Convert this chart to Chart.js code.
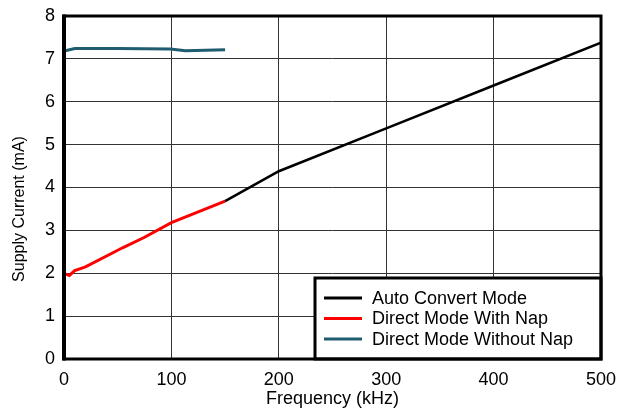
<!DOCTYPE html>
<html><head><meta charset="utf-8">
<script src="https://cdn.jsdelivr.net/npm/chart.js@4.4.0/dist/chart.umd.min.js"></script>
<style>html,body{margin:0;padding:0;background:#fff}#wrap{width:619px;height:411px}</style>
</head><body><div id="wrap"><canvas id="c" width="619" height="411"></canvas></div>
<script>
const xTitle = "Frequency (kHz)";
const yTitle = "Supply Current (mA)";
const seriesNames = ["Auto Convert Mode", "Direct Mode With Nap", "Direct Mode Without Nap"];
const seriesColors = ["#000000", "#ff0000", "#1f5c70"];
const autoFreq = [150, 200, 300, 400, 500];
const autoCurrent = [3.68, 4.38, 5.38, 6.38, 7.38];
const napFreq = [0, 3, 5, 10, 20, 55, 75, 100, 150];
const napCurrent = [1.98, 1.97, 1.95, 2.06, 2.15, 2.6, 2.84, 3.18, 3.68];
const noNapFreq = [0, 10, 50, 99, 113, 150];
const noNapCurrent = [7.18, 7.24, 7.24, 7.23, 7.19, 7.21];

const FONT = "'Liberation Sans', Arial, sans-serif";
const pts = (xs, ys) => xs.map((x, i) => ({x, y: ys[i]}));

const framePlugin = {
  id: 'frame',
  afterDatasetsDraw(chart) {
    const {ctx, chartArea: a} = chart;
    ctx.save();
    // legend box
    const lx = 315, ly = 278, lr = a.right, lb = a.bottom;
    ctx.fillStyle = '#fff';
    ctx.fillRect(lx, ly, lr - lx, lb - ly);
    ctx.lineWidth = 3;
    ctx.strokeStyle = '#000';
    ctx.strokeRect(lx, ly, lr - lx, lb - ly);
    const rows = [298, 318.5, 339];
    ctx.font = "18px " + FONT;
    ctx.textBaseline = 'middle';
    ctx.textAlign = 'left';
    seriesNames.forEach((n, i) => {
      ctx.strokeStyle = seriesColors[i];
      ctx.lineWidth = 3;
      ctx.beginPath();
      ctx.moveTo(324, rows[i]);
      ctx.lineTo(362, rows[i]);
      ctx.stroke();
      ctx.fillStyle = '#000';
      ctx.fillText(n, 372, rows[i] + 1);
    });
    // plot frame
    ctx.strokeStyle = '#000';
    ctx.lineWidth = 3;
    ctx.strokeRect(a.left, a.top, a.right - a.left, a.bottom - a.top);
    ctx.lineWidth = 4;
    ctx.beginPath();
    ctx.moveTo(a.left, a.top - 1.5);
    ctx.lineTo(a.left, a.bottom + 1.5);
    ctx.stroke();
    // y title
    ctx.translate(20, 209);
    ctx.rotate(-Math.PI / 2);
    ctx.font = "16px " + FONT;
    ctx.textAlign = 'center';
    ctx.textBaseline = 'middle';
    ctx.fillStyle = '#000';
    ctx.fillText(yTitle, 0, 0);
    ctx.restore();
  }
};

new Chart(document.getElementById('c'), {
  type: 'line',
  data: {
    datasets: [
      {label: seriesNames[0], data: pts(autoFreq, autoCurrent), borderColor: seriesColors[0], borderWidth: 2.6},
      {label: seriesNames[1], data: pts(napFreq, napCurrent), borderColor: seriesColors[1], borderWidth: 3},
      {label: seriesNames[2], data: pts(noNapFreq, noNapCurrent), borderColor: seriesColors[2], borderWidth: 3}
    ]
  },
  options: {
    responsive: false,
    animation: false,
    devicePixelRatio: 1,
    layout: {padding: {left: 0, right: 18, top: 16, bottom: 0}},
    elements: {point: {radius: 0}, line: {tension: 0, fill: false}},
    plugins: {legend: {display: false}, tooltip: {enabled: false}},
    scales: {
      x: {
        type: 'linear', min: 0, max: 500,
        afterFit: s => { s.height = 52; s.paddingLeft = 0; s.paddingRight = 0; },
        ticks: {stepSize: 100, padding: 10, color: '#000', font: {size: 18, family: FONT}, maxRotation: 0},
        grid: {color: '#333', lineWidth: 1, drawTicks: false},
        border: {display: false},
        title: {display: true, text: xTitle, color: '#000', font: {size: 18, family: FONT}, padding: {top: 0, bottom: 1}}
      },
      y: {
        type: 'linear', min: 0, max: 8,
        afterFit: s => { s.width = 64; s.paddingTop = 0; s.paddingBottom = 0; },
        ticks: {stepSize: 1, padding: 9, color: '#000', font: {size: 18, family: FONT}},
        grid: {color: '#333', lineWidth: 1, drawTicks: false},
        border: {display: false}
      }
    }
  },
  plugins: [framePlugin]
});
</script></body></html>
